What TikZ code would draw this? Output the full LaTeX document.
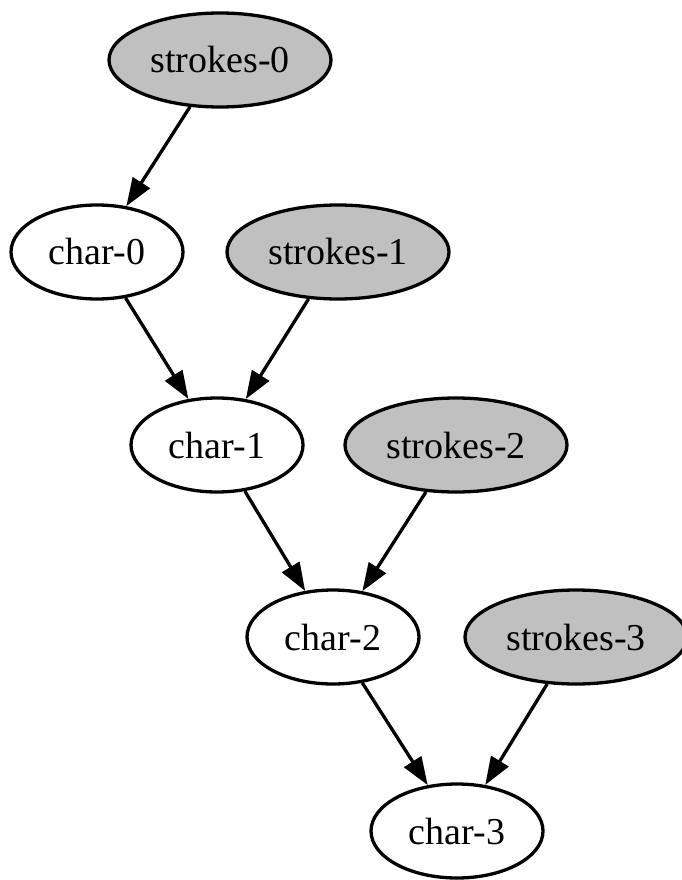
\documentclass[tikz,border=0pt]{standalone}
\usepackage{fontspec}
\setmainfont{Liberation Serif}
\usetikzlibrary{shapes.geometric,arrows.meta}
\definecolor{nodegray}{RGB}{192,192,192}
\tikzset{
  base/.style={ellipse, draw=black, line width=3.3pt, inner sep=0pt,
    minimum height=94pt, font=\fontsize{38}{42}\selectfont},
  charnode/.style={base, fill=white, minimum width=172pt},
  strokenode/.style={base, fill=nodegray, minimum width=222pt},
  edge/.style={line width=3.3pt, -{Triangle[length=28pt,width=20pt]}, shorten >=0pt}
}
\begin{document}
\begin{tikzpicture}[x=1pt,y=-1pt]
\useasboundingbox (0,0) rectangle (681,880);
\node[strokenode] (s0) at (220,60) {strokes-0};
\node[charnode]   (c0) at (97,252) {char-0};
\node[strokenode] (s1) at (338,252) {strokes-1};
\node[charnode]   (c1) at (217,445) {char-1};
\node[strokenode] (s2) at (456,445) {strokes-2};
\node[charnode]   (c2) at (333,637) {char-2};
\node[strokenode] (s3) at (576,637) {strokes-3};
\node[charnode]   (c3) at (457,831) {char-3};
\draw[edge] (s0) -- (c0);
\draw[edge] (c0) -- (c1);
\draw[edge] (s1) -- (c1);
\draw[edge] (c1) -- (c2);
\draw[edge] (s2) -- (c2);
\draw[edge] (c2) -- (c3);
\draw[edge] (s3) -- (c3);
\end{tikzpicture}
\end{document}
